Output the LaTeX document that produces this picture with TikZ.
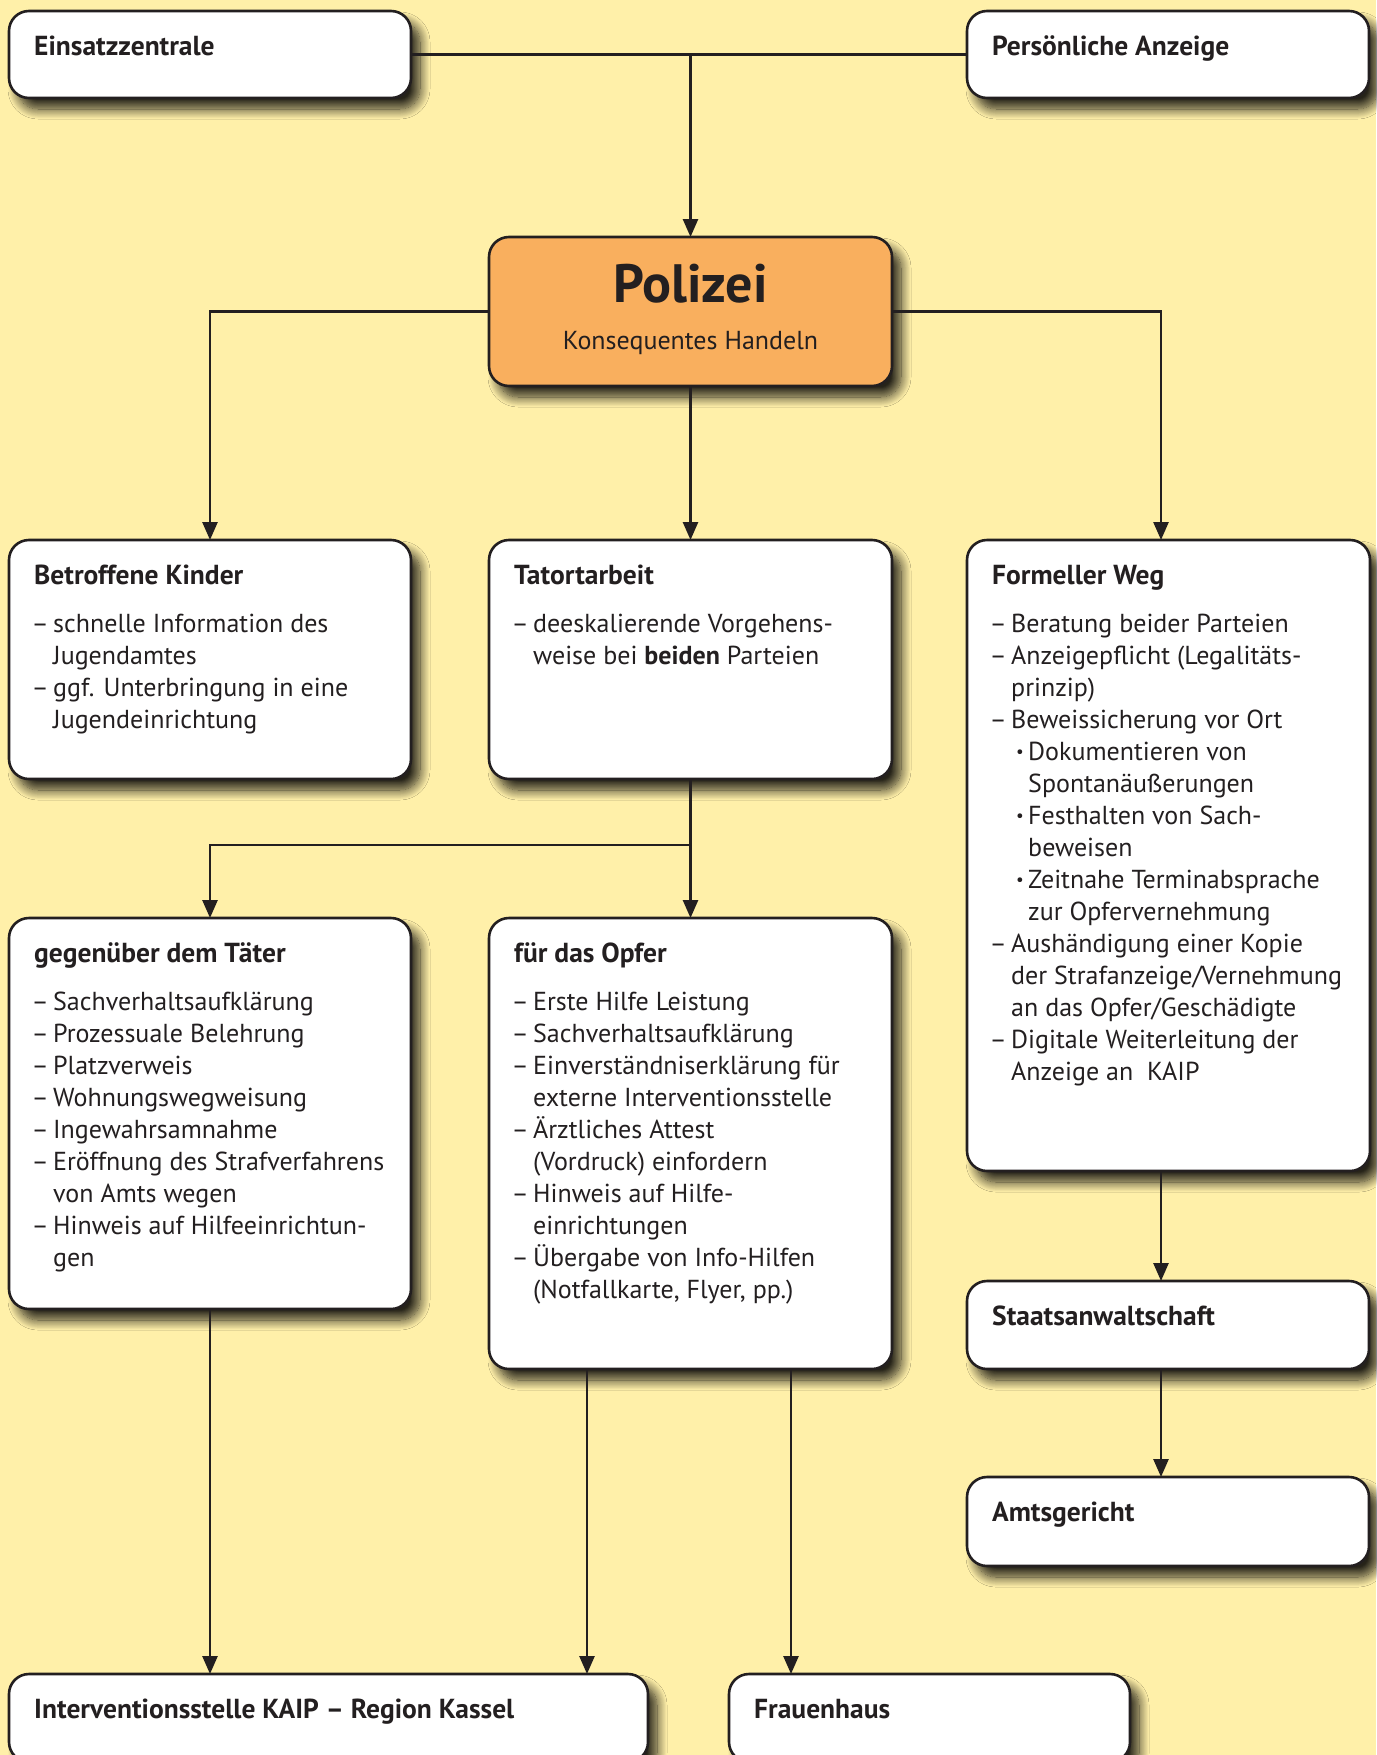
\documentclass[tikz,border=0pt]{standalone}
\usepackage{fontspec}
\setmainfont{PT Sans}
\usetikzlibrary{arrows.meta,shadows.blur,calc}

\definecolor{paper}{HTML}{FFF0A9}
\definecolor{ink}{HTML}{231F20}
\definecolor{police}{HTML}{F9AF5E}

% list helpers: dash item, its continuation, bullet sub-item, its continuation
\newcommand\di{\makebox[19pt][l]{\hspace*{-2.5pt}–}}
\newcommand\ci{\hspace*{19pt}}
\newcommand\bi{\hspace*{24pt}\makebox[12pt][l]{\raisebox{2.5pt}{\fontsize{17}{17}\selectfont\textbullet}}}
\newcommand\bc{\hspace*{36pt}}
\newcommand\bodyfont{\fontsize{26}{32}\selectfont}
\newcommand\hd[1]{{\fontsize{27.5}{32}\selectfont\bfseries #1}}

\begin{document}
\begin{tikzpicture}[x=1pt, y=-1pt,
  box/.style={draw=ink, line width=2.6pt, fill=white, rounded corners=20pt,
    inner sep=0pt, outer sep=0pt, anchor=north west,
    blur shadow={shadow xshift=9pt, shadow yshift=-11pt,
      shadow blur radius=10pt, shadow blur steps=14, shadow opacity=85}},
  txt/.style={anchor=north west, inner sep=0pt, align=left, text=ink, font=\bodyfont},
  link/.style={draw=ink, line width=2.6pt},
  arrow/.style={link, -{Triangle[length=18pt,width=15pt]}}]

% page
\fill[paper] (0,0) rectangle (1376,1755);
\useasboundingbox (0,0) rectangle (1376,1755);

% boxes
\node[box, minimum width=402, minimum height=87] (einsatz) at (9,11) {};
\node[box, minimum width=402, minimum height=87] (anzeige) at (967,11) {};
\node[box, fill=police, minimum width=403, minimum height=149] (polizei) at (489,237) {};
\node[box, minimum width=402, minimum height=239] (kinder) at (9,540) {};
\node[box, minimum width=403, minimum height=239] (tatort) at (489,540) {};
\node[box, minimum width=403, minimum height=631] (formell) at (967,540) {};
\node[box, minimum width=402, minimum height=391] (taeter) at (9,918) {};
\node[box, minimum width=403, minimum height=451] (opfer) at (489,918) {};
\node[box, minimum width=402, minimum height=88] (staat) at (967,1281) {};
\node[box, minimum width=402, minimum height=89] (amt) at (967,1477) {};
\node[box, minimum width=639, minimum height=88] (kaip) at (9,1674) {};
\node[box, minimum width=401, minimum height=88] (frauen) at (729,1674) {};

% texts
\node[txt] (einsatz-t) at ($(einsatz.north west)+(25,21.6)$) {\strut\hd{Einsatzzentrale}};
\node[txt] (anzeige-t) at ($(anzeige.north west)+(25,21.6)$) {\strut\hd{Persönliche Anzeige}};

\node[anchor=base, inner sep=0pt, text=ink, font=\fontsize{54}{60}\selectfont\bfseries]
  (polizei-t) at (690.5,302) {Polizei};
\node[anchor=base, inner sep=0pt, text=ink, font=\bodyfont]
  (polizei-s) at (690.5,349) {Konsequentes Handeln};

\node[txt] (kinder-t) at ($(kinder.north west)+(25,21.6)$) {\strut\hd{Betroffene Kinder}\\[16pt]
\di schnelle Information des\\
\ci Jugendamtes\\
\di ggf. Unterbringung in eine\\
\ci Jugendeinrichtung};

\node[txt] (tatort-t) at ($(tatort.north west)+(25,21.6)$) {\strut\hd{Tatortarbeit}\\[16pt]
\di deeskalierende Vorgehens-\\
\ci weise bei \textbf{beiden} Parteien};

\node[txt] (formell-t) at ($(formell.north west)+(25,21.6)$) {\strut\hd{Formeller Weg}\\[16pt]
\di Beratung beider Parteien\\
\di Anzeigepflicht (Legalitäts-\\
\ci prinzip)\\
\di Beweissicherung vor Ort\\
\bi Dokumentieren von\\
\bc Spontanäußerungen\\
\bi Festhalten von Sach-\\
\bc beweisen\\
\bi Zeitnahe Terminabsprache\\
\bc zur Opfervernehmung\\
\di Aushändigung einer Kopie\\
\ci der Strafanzeige/Vernehmung\\
\ci an das Opfer/Geschädigte\\
\di Digitale Weiterleitung der\\
\ci Anzeige an\ \ KAIP};

\node[txt] (taeter-t) at ($(taeter.north west)+(25,21.6)$) {\strut\hd{gegenüber dem Täter}\\[16pt]
\di Sachverhaltsaufklärung\\
\di Prozessuale Belehrung\\
\di Platzverweis\\
\di Wohnungswegweisung\\
\di Ingewahrsamnahme\\
\di Eröffnung des Strafverfahrens\\
\ci von Amts wegen\\
\di Hinweis auf Hilfeeinrichtun-\\
\ci gen};

\node[txt] (opfer-t) at ($(opfer.north west)+(25,21.6)$) {\strut\hd{für das Opfer}\\[16pt]
\di Erste Hilfe Leistung\\
\di Sachverhaltsaufklärung\\
\di Einverständniserklärung für\\
\ci externe Interventionsstelle\\
\di Ärztliches Attest\\
\ci (Vordruck) einfordern\\
\di Hinweis auf Hilfe-\\
\ci einrichtungen\\
\di Übergabe von Info-Hilfen\\
\ci (Notfallkarte, Flyer, pp.)};

\node[txt] (staat-t) at ($(staat.north west)+(25,21.6)$) {\strut\hd{Staatsanwaltschaft}};
\node[txt] (amt-t) at ($(amt.north west)+(25,21.6)$) {\strut\hd{Amtsgericht}};
\node[txt] (kaip-t) at ($(kaip.north west)+(25,21.6)$) {\strut\hd{Interventionsstelle KAIP – Region Kassel}};
\node[txt] (frauen-t) at ($(frauen.north west)+(25,21.6)$) {\strut\hd{Frauenhaus}};

% connectors
\coordinate (top-join) at (einsatz.east -| polizei.north);
\coordinate (split) at (690.5,845);
\coordinate (right-lane) at ([xshift=-7.5pt]formell.north);

\draw[link] (einsatz.east) -- (anzeige.west);
\draw[arrow] (top-join) -- (polizei.north);
\draw[arrow] (polizei.west) -| (kinder.north);
\draw[arrow] (polizei.east) -| (right-lane);
\draw[arrow] (polizei.south) -- (tatort.north);

\draw[arrow] (tatort.south) -- (opfer.north);
\draw[arrow] (split) -| (taeter.north);

\draw[arrow] (taeter.south) -- (taeter.south |- kaip.north);
\draw[arrow] ([xshift=-103.5pt]opfer.south) -- ([xshift=-103.5pt]opfer.south |- kaip.north);
\draw[arrow] ([xshift=100.5pt]opfer.south) -- ([xshift=100.5pt]opfer.south |- frauen.north);

\draw[arrow] (right-lane |- formell.south) -- (right-lane |- staat.north);
\draw[arrow] (right-lane |- staat.south) -- (right-lane |- amt.north);
\end{tikzpicture}
\end{document}
